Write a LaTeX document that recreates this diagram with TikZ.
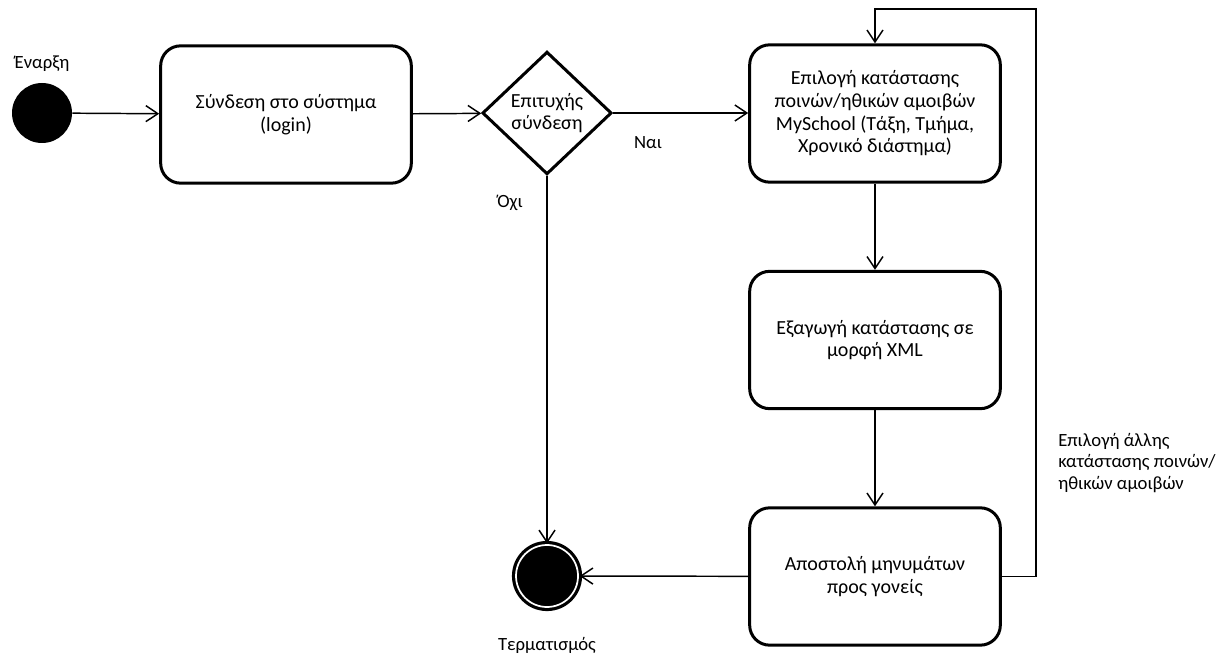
\documentclass[tikz,border=0pt]{standalone}
\usepackage{fontspec}
\setmainfont{Carlito}
\usetikzlibrary{shapes.geometric,arrows.meta}

\begin{document}
\begin{tikzpicture}[x=0.75pt,y=0.75pt,
  actbox/.style={draw=black,line width=2.25pt,rounded corners=15pt,minimum width=188pt,minimum height=103pt,align=center,inner sep=0pt,font=\fontsize{15}{17}\selectfont},
  decbox/.style={diamond,draw=black,line width=2.25pt,minimum width=97pt,minimum height=92pt,align=center,inner sep=0pt,font=\fontsize{15}{17}\selectfont},
  flow/.style={draw=black,line width=1.1pt,-{Straight Barb[length=9pt,width=12pt,line width=1.1pt]}},
  lbl/.style={text=black,inner sep=0pt,font=\fontsize{14}{17}\selectfont}]
\path[use as bounding box,fill=white] (0,0) rectangle (1230,654);

\node[circle,fill=black,inner sep=0pt,minimum size=45pt] (start) at ( 42,541) {};
\node[lbl] (startlbl) at ( 42,590) {Έναρξη};

\node[actbox] (login) at (286,539.5) {Σύνδεση στο σύστημα\\(login)};

\node[decbox] (check) at (547,541) {Επιτυχής\\σύνδεση};

\node[actbox] (choose) at (875,540.5) {Επιλογή κατάστασης\\ποινών/ηθικών αμοιβών\\MySchool (Τάξη, Τμήμα,\\Χρονικό διάστημα)};

\node[actbox] (export) at (875,314) {Εξαγωγή κατάστασης σε\\μορφή XML};

\node[actbox] (send) at (875,77.5) {Αποστολή μηνυμάτων\\προς γονείς};

\node[circle,fill=black,draw=black,line width=2.4pt,double=white,double distance=1.3pt,inner sep=0pt,minimum size=46.5pt] (end) at (547,78) {};
\node[lbl] (endlbl) at (547,9) {Τερματισμός};

\node[lbl] (yes) at (648,511) {Ναι};
\node[lbl] (no) at (510,451) {Όχι};
\node[lbl,anchor=west,align=left,font=\fontsize{14}{16}\selectfont] (againlbl) at (1058,191) {Επιλογή άλλης\\κατάστασης ποινών/\\ηθικών αμοιβών};

\coordinate (looptop) at (1036,645);

\draw[flow] (start) -- (login);
\draw[flow] (login) -- (check);
\draw[flow] (check.east) -- (choose.west |- check.east);
\draw[flow] (check.south) -- (end.north);
\draw[flow] (choose) -- (export);
\draw[flow] (export) -- (send);
\draw[flow] (send) -- (end);
\draw[flow,line join=miter] (send.east) -| (looptop) -| (choose.north);
\end{tikzpicture}
\end{document}
